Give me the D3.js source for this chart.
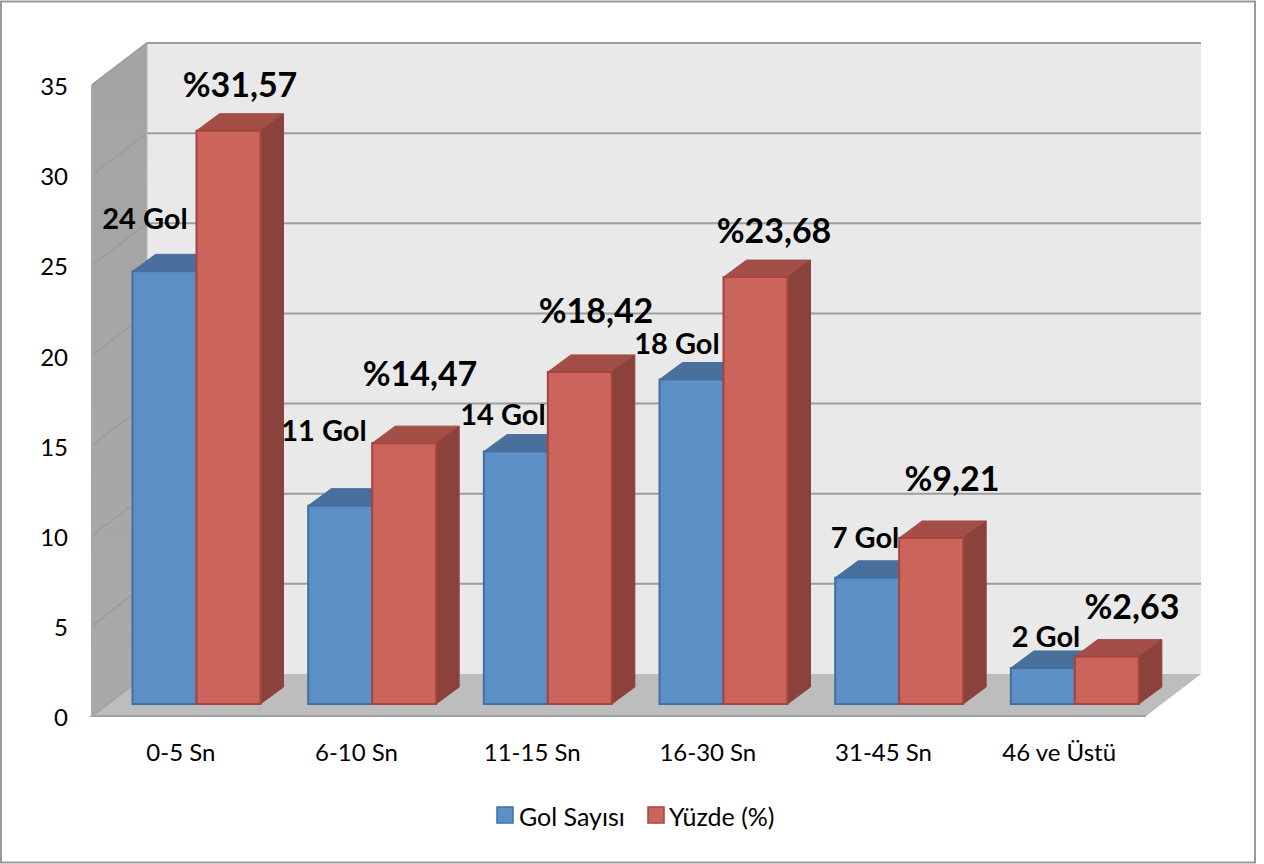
<!DOCTYPE html>
<html><head><meta charset="utf-8">
<script src="https://cdn.jsdelivr.net/npm/d3@7"></script>
<style>html,body{margin:0;padding:0;background:#fff}svg{display:block}text{font-family:Lato,Carlito,sans-serif;fill:#000}</style>
</head><body><svg id="c" width="1264" height="864"></svg>
<script>
const categories=["0-5 Sn","6-10 Sn","11-15 Sn","16-30 Sn","31-45 Sn","46 ve Üstü"];
const golValues=[24,11,14,18,7,2];
const yuzdeValues=[31.8,14.47,18.42,23.68,9.21,2.63];
const golLabels=["24 Gol","11 Gol","14 Gol","18 Gol","7 Gol","2 Gol"];
const yuzdeLabels=["%31,57","%14,47","%18,42","%23,68","%9,21","%2,63"];
const golLabelPos=[[145,219],[324,431],[503,415],[677,344],[865,538],[1046,637]];
const yuzdeLabelPos=[[240,86],[420,375],[596,312],[774,232],[952,480],[1132,608]];
const seriesNames=["Gol Sayısı","Yüzde (%)"];
const tickValues=[0,5,10,15,20,25,30,35];

const svg=d3.select("#c");
const W={dx:55,dy:-42}, B={dx:23,dy:-17};
const y=d3.scaleLinear().domain([0,35]).range([716,85]);
const x=d3.scaleBand().domain(categories).range([92,1146]);
const unit=y(0)-y(1), baseY=704, barW=64, barOff=40.5;
const vy=v=>baseY-v*unit;
const poly=(pts,fill,stroke,sw)=>svg.append("polygon").attr("points",pts.map(p=>p.join(",")).join(" ")).attr("fill",fill).attr("stroke",stroke||"none").attr("stroke-width",sw||0);

svg.append("rect").attr("x",1).attr("y",1.5).attr("width",1254).attr("height",861).attr("fill","#fff").attr("stroke","#9a9a9a").attr("stroke-width",2);

const defs=svg.append("defs");
const g=defs.append("linearGradient").attr("id","wall").attr("x1",0).attr("x2",0).attr("y1",0).attr("y2",1);
g.append("stop").attr("offset",0).attr("stop-color","#a4a4a4");
g.append("stop").attr("offset",1).attr("stop-color","#a9a9a9");

// walls and floor
const xl=x.range()[0], xr=x.range()[1];
poly([[xl+W.dx,y(35)+W.dy],[xr+W.dx,y(35)+W.dy],[xr+W.dx,y(0)+W.dy],[xl+W.dx,y(0)+W.dy]],"#e9e9e9");
poly([[xl,y(35)],[xl+W.dx,y(35)+W.dy],[xl+W.dx,y(0)+W.dy],[xl,y(0)]],"url(#wall)");
poly([[xl,y(0)],[xl+W.dx,y(0)+W.dy],[xr+W.dx,y(0)+W.dy],[xr,y(0)]],"#bdbdbd");

// gridlines
tickValues.forEach(v=>{
  svg.append("polyline").attr("fill","none").attr("stroke",v===0?"#a3a3a3":"#9e9e9e").attr("stroke-width",2)
    .attr("points",(v===0?[[xr,y(v)],[xl,y(v)],[xl+W.dx,y(v)+W.dy]]:[[xl,y(v)],[xl+W.dx,y(v)+W.dy],[xr+W.dx,y(v)+W.dy]]).map(p=>p.join(",")).join(" "));
});
svg.append("line").attr("x1",xl).attr("x2",xl).attr("y1",y(35)).attr("y2",y(0)).attr("stroke","#a8a8a8").attr("stroke-width",2);
svg.append("line").attr("x1",xl+W.dx).attr("x2",xl+W.dx).attr("y1",y(35)+W.dy).attr("y2",y(0)+W.dy).attr("stroke","#b5b5b5").attr("stroke-width",1);

// bars
const drawBar=(x0,v,front,top,side,stroke)=>{
  const t=vy(v),x1=x0+barW;
  poly([[x0,t],[x0+B.dx,t+B.dy],[x1+B.dx,t+B.dy],[x1,t]],top,top,1);
  poly([[x1,t],[x1+B.dx,t+B.dy],[x1+B.dx,baseY+B.dy],[x1,baseY]],side,side,1);
  poly([[x0,t],[x1,t],[x1,baseY],[x0,baseY]],front,stroke,2);
};
categories.forEach((c,i)=>{
  const x0=x(c)+barOff;
  drawBar(x0,golValues[i],"#5b8fc6","#49709c","#3f6590","#41709f");
  drawBar(x0+barW,yuzdeValues[i],"#cb645b","#a34e47","#8c423c","#a8443f");
});

// axis labels
svg.append("g").selectAll("text").data(tickValues).join("text")
  .attr("x",68).attr("y",d=>y(d)+4).attr("text-anchor","end").attr("dominant-baseline","middle")
  .attr("font-size",24).text(d=>d);
svg.append("g").selectAll("text").data(categories).join("text")
  .attr("x",d=>x(d)+x.bandwidth()/2+1).attr("y",761).attr("text-anchor","middle")
  .attr("font-size",24).text(d=>d);

// data labels
svg.append("g").selectAll("text").data(golLabels).join("text")
  .attr("x",(d,i)=>golLabelPos[i][0]).attr("y",(d,i)=>golLabelPos[i][1]+10).attr("text-anchor","middle")
  .attr("font-size",29).attr("font-weight",700).text(d=>d);
svg.append("g").selectAll("text").data(yuzdeLabels).join("text")
  .attr("x",(d,i)=>yuzdeLabelPos[i][0]).attr("y",(d,i)=>yuzdeLabelPos[i][1]+11).attr("text-anchor","middle")
  .attr("font-size",34).attr("font-weight",700).text(d=>d);

// legend
const legendX=[497,648], legendFill=["#5b8fc6","#cb645b"], legendStroke=["#41709f","#a8443f"], legendText=[519,669];
seriesNames.forEach((s,i)=>{
  svg.append("rect").attr("x",legendX[i]).attr("y",807).attr("width",16).attr("height",16).attr("fill",legendFill[i]).attr("stroke",legendStroke[i]).attr("stroke-width",1.5);
  svg.append("text").attr("x",legendText[i]).attr("y",826).attr("font-size",25).text(s);
});
</script></body></html>
